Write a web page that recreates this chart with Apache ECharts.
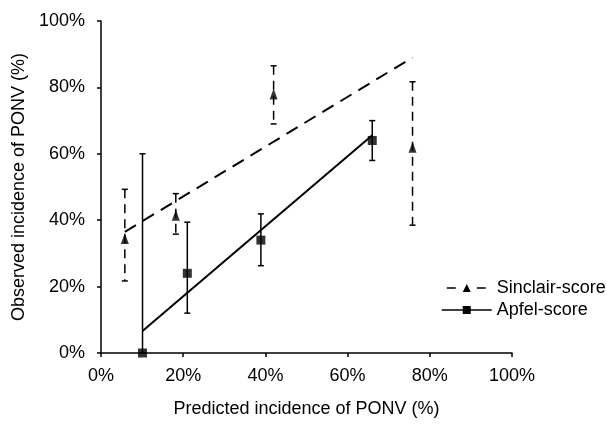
<!DOCTYPE html>
<html>
<head>
<meta charset="utf-8">
<script src="https://cdn.jsdelivr.net/npm/echarts@6/dist/echarts.min.js"></script>
<style>
  html, body { margin: 0; padding: 0; background: #fff; }
  #chart { width: 607px; height: 425px; }
</style>
</head>
<body>
<div id="chart"></div>
<script>
// Sinclair-score: predicted vs observed incidence (%)
const sinclairX = [5.8, 18.2, 42, 75.8];
const sinclairY = [34.5, 41.5, 78, 62];
const sinclairLow = [21.7, 35.8, 69, 38.5];
const sinclairHigh = [49.3, 48, 86.5, 81.7];
const sinclairFit = [[5.8, 36.5], [75.8, 89]];

// Apfel-score
const apfelX = [10.1, 21, 38.9, 66];
const apfelY = [0, 24, 34, 64];
const apfelLow = [0, 12, 26.3, 58];
const apfelHigh = [60, 39.4, 41.9, 70];
const apfelFit = [[10.1, 6.6], [66, 65.6]];

const font = 'Liberation Sans, Arial, sans-serif';

// 误差线: 竖线 + 上下短横
const errorBar = (dashed) => (params, api) => {
  const x = api.value(0);
  const top = api.coord([x, api.value(2)]);
  const bot = api.coord([x, api.value(1)]);
  const w = 3;
  const cap = { stroke: '#000', lineWidth: 1.5 };
  return {
    type: 'group',
    children: [
      { type: 'line', shape: { x1: top[0], y1: top[1], x2: bot[0], y2: bot[1] },
        style: { stroke: '#000', lineWidth: 1.5, lineDash: dashed ? [9, 6] : null } },
      { type: 'line', shape: { x1: top[0] - w, y1: top[1], x2: top[0] + w, y2: top[1] }, style: cap },
      { type: 'line', shape: { x1: bot[0] - w, y1: bot[1], x2: bot[0] + w, y2: bot[1] }, style: cap }
    ]
  };
};

const axisCommon = {
  type: 'value',
  min: 0,
  max: 100,
  interval: 20,
  axisLine: { show: true, lineStyle: { color: '#000', width: 1.5 } },
  axisTick: { show: true, inside: false, length: 4, lineStyle: { color: '#000', width: 1.5 } },
  splitLine: { show: false },
  axisLabel: { formatter: '{value}%', color: '#000', fontSize: 18, fontFamily: font },
  nameLocation: 'middle',
  nameTextStyle: { color: '#000', fontSize: 18, fontFamily: font }
};

const chart = echarts.init(document.getElementById('chart'));
chart.setOption({
  animation: false,
  grid: { left: 101, right: 95, top: 21, bottom: 72 },
  xAxis: Object.assign({}, axisCommon, {
    name: 'Predicted incidence of PONV (%)',
    nameGap: 47,
    axisLabel: Object.assign({}, axisCommon.axisLabel, { margin: 14 })
  }),
  yAxis: Object.assign({}, axisCommon, {
    name: 'Observed incidence of PONV (%)',
    nameGap: 68,
    axisLabel: Object.assign({}, axisCommon.axisLabel, { margin: 16 })
  }),
  legend: {
    data: [
      { name: 'Sinclair-score', lineStyle: { type: [9, 21], dashOffset: 25, width: 1.5 } },
      { name: 'Apfel-score', lineStyle: { width: 1.5 } }
    ],
    orient: 'vertical',
    left: 436,
    top: 274,
    itemWidth: 50,
    itemHeight: 10,
    itemGap: 4,
    textStyle: { color: '#000', fontSize: 18, fontFamily: font }
  },
  series: [
    {
      name: 'Sinclair-score',
      type: 'line',
      data: sinclairFit,
      symbol: 'triangle',
      symbolSize: [8, 10],
      showSymbol: false,
      itemStyle: { color: '#000' },
      lineStyle: { color: '#000', width: 2, type: [13, 8] },
      z: 2
    },
    {
      name: 'Apfel-score',
      type: 'line',
      data: apfelFit,
      symbol: 'rect',
      symbolSize: 8,
      showSymbol: false,
      itemStyle: { color: '#000' },
      lineStyle: { color: '#000', width: 2 },
      z: 2
    },
    {
      name: 'sinclairErr',
      type: 'custom',
      renderItem: errorBar(true),
      encode: { x: 0, y: [1, 2] },
      data: sinclairX.map((x, i) => [x, sinclairLow[i], sinclairHigh[i]]),
      z: 3
    },
    {
      name: 'apfelErr',
      type: 'custom',
      renderItem: errorBar(false),
      encode: { x: 0, y: [1, 2] },
      data: apfelX.map((x, i) => [x, apfelLow[i], apfelHigh[i]]),
      z: 3
    },
    {
      name: 'sinclairPts',
      type: 'scatter',
      symbol: 'triangle',
      symbolSize: [8, 11],
      itemStyle: { color: '#000' },
      data: sinclairX.map((x, i) => [x, sinclairY[i]]),
      z: 4
    },
    {
      name: 'apfelPts',
      type: 'scatter',
      symbol: 'rect',
      symbolSize: 9,
      itemStyle: { color: '#000' },
      data: apfelX.map((x, i) => [x, apfelY[i]]),
      z: 4
    }
  ]
});
</script>
</body>
</html>
